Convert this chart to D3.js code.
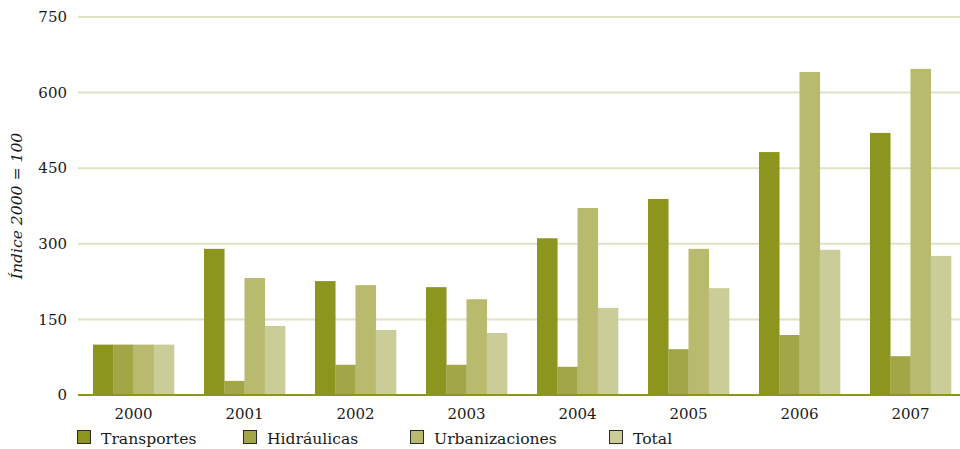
<!DOCTYPE html>
<html><head><meta charset="utf-8">
<script src="https://cdn.jsdelivr.net/npm/d3@7"></script>
<style>body{margin:0;background:#fff}svg{display:block}</style>
</head><body>
<svg id="c" width="960" height="449"></svg>
<script>
const years = ["2000","2001","2002","2003","2004","2005","2006","2007"];
const seriesNames = ["Transportes","Hidráulicas","Urbanizaciones","Total"];
const transportes = [100,290,226,214,311,389,482,520];
const hidraulicas = [100,28,60,60,56,91,119,77];
const urbanizaciones = [100,232,218,190,371,290,641,647];
const total = [100,137,129,123,173,212,288,276];
const yTicks = [0,150,300,450,600,750];
const colors = ["#8c961e","#a2a646","#b8ba6e","#cbcd99"];
const yLabel = "Índice 2000 = 100";

const seriesData = [transportes, hidraulicas, urbanizaciones, total];
const font = "DejaVu Serif";
const svg = d3.select("#c");
const mLeft = 78, mRight = 966, mTop = 17, mBottom = 395;

const x = d3.scaleBand().domain(years).range([mLeft, mRight]).paddingInner(0.27).paddingOuter(0.135);
const x1 = d3.scaleBand().domain(seriesNames).range([0, x.bandwidth()]);
const y = d3.scaleLinear().domain([0, 750]).range([mBottom, mTop]);

// grid
svg.append("g").selectAll("line").data(yTicks.filter(d => d > 0)).join("line")
  .attr("x1", mLeft).attr("x2", 960).attr("y1", d => y(d)).attr("y2", d => y(d))
  .attr("stroke", "#dfe2c3").attr("stroke-width", 2);

// y tick labels
svg.append("g").selectAll("text").data(yTicks).join("text")
  .attr("x", 67).attr("y", d => y(d)).attr("dy", "0.35em")
  .attr("text-anchor", "end").attr("font-family", font).attr("font-size", 15).attr("fill", "#1a1a1a")
  .text(d => d);

// bars
const g = svg.append("g");
years.forEach((yr, i) => {
  seriesNames.forEach((s, j) => {
    const v = seriesData[j][i];
    g.append("rect")
      .attr("x", x(yr) + x1(s)).attr("width", x1.bandwidth() + 0.3)
      .attr("y", y(v)).attr("height", y(0) - y(v))
      .attr("fill", colors[j]);
  });
});

// baseline
svg.append("line").attr("x1", mLeft).attr("x2", 960).attr("y1", y(0)).attr("y2", y(0))
  .attr("stroke", "#8c961e").attr("stroke-width", 2);

// x labels
svg.append("g").selectAll("text").data(years).join("text")
  .attr("x", d => x(d) + x.bandwidth() / 2).attr("y", 419)
  .attr("text-anchor", "middle").attr("font-family", font).attr("font-size", 15).attr("fill", "#1a1a1a")
  .text(d => d);

// y axis label
svg.append("text").attr("transform", `translate(22,${(mTop + mBottom) / 2}) rotate(-90)`)
  .attr("text-anchor", "middle").attr("font-family", font).attr("font-style", "italic")
  .attr("font-size", 15.6).attr("fill", "#1a1a1a").text(yLabel);

// legend
const legX = [77, 243, 410, 609];
const leg = svg.append("g");
seriesNames.forEach((s, j) => {
  leg.append("rect").attr("x", legX[j] + 0.5).attr("y", 430.5).attr("width", 13).attr("height", 13)
    .attr("fill", colors[j]).attr("stroke", "#2a2a2a").attr("stroke-width", 1);
  leg.append("text").attr("x", legX[j] + 24).attr("y", 444)
    .attr("font-family", font).attr("font-size", 15.6).attr("fill", "#1a1a1a").text(s);
});
</script>
</body></html>
